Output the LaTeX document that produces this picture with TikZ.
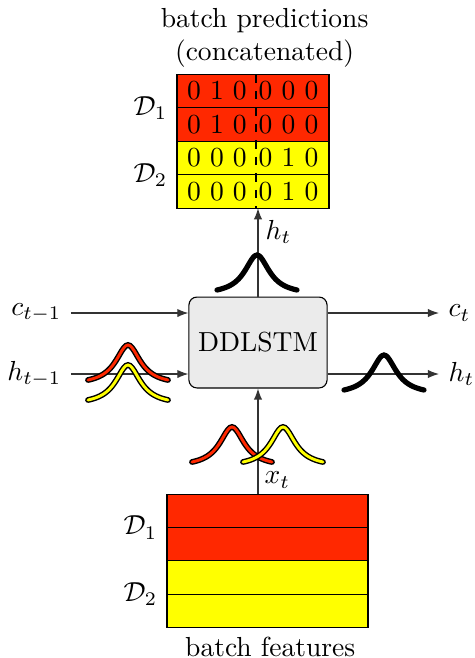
\documentclass[tikz,border=0pt]{standalone}
\usetikzlibrary{positioning,arrows.meta}
\definecolor{batchred}{RGB}{255,40,0}
\definecolor{batchyellow}{RGB}{255,255,0}
\definecolor{boxgray}{RGB}{235,235,235}
% bell shaped curve with its peak at (#1,#2)
\newcommand{\bellpath}[2]{plot[domain=-40:40,samples=41,smooth] ({#1+\x},{#2+39.9*(1-1/(1+(\x/15)^2))})}
\begin{document}
\begin{tikzpicture}[x=0.363pt,y=-0.363pt,node distance=0pt,
  predrow/.style={draw, outer sep=0pt, minimum width=55.2pt, minimum height=12.16pt, inner sep=0pt},
  featrow/.style={draw, outer sep=0pt, minimum width=73pt, minimum height=12.07pt, inner sep=0pt},
  lstmbox/.style={draw, fill=boxgray, rounded corners=2.9pt, minimum width=49.4pt, minimum height=33pt},
  flow/.style={-{Latex[length=4pt,width=3pt]}, black!80},
  bellblack/.style={line width=1.9pt, line cap=round},
  bellout/.style={line width=2.1pt, line cap=round, black},
  bellin/.style={line width=1.05pt, line cap=round}]
  \useasboundingbox (0,0) rectangle (475,658);
  % predictions
  \node[predrow, fill=batchred] (p1) at (253,91) {};
  \node[predrow, fill=batchred, below=of p1] (p2) {};
  \node[predrow, fill=batchyellow, below=of p2] (p3) {};
  \node[predrow, fill=batchyellow, below=of p3] (p4) {};
  \foreach \r/\a/\b in {1/{0 1 0}/{0 0 0}, 2/{0 1 0}/{0 0 0}, 3/{0 0 0}/{0 1 0}, 4/{0 0 0}/{0 1 0}} {
    \node (p\r a) at ([xshift=-13.1pt]p\r.center) {\a};
    \node (p\r b) at ([xshift=12.9pt]p\r.center) {\b};
  }
  \draw[dashed] ([xshift=1.1pt]p1.north) -- ([xshift=1.1pt]p4.south);
  \node[left] (pd1) at (p1.south west) {$\mathcal{D}_1$};
  \node[left] (pd2) at (p3.south west) {$\mathcal{D}_2$};
  \node[align=center, anchor=south] (ptitle) at ([xshift=4.2pt,yshift=-1pt]p1.north) {batch predictions\\(concatenated)};
  % cell
  \node[lstmbox] (lstm) at (258,342.5) {DDLSTM};
  \draw[flow] (lstm.north) -- (lstm.north |- p4.south);
  \node[anchor=west] (htop) at (256,232) {$h_t$};
  \node[anchor=east] (cprev) at (71,313) {$c_{t-1}$};
  \node[anchor=east] (hprev) at (71,374) {$h_{t-1}$};
  \node[anchor=west] (cnext) at (439,313) {$c_t$};
  \node[anchor=west] (hnext) at (439,374) {$h_t$};
  \draw[flow] (cprev.east) -- (cprev.east -| lstm.west);
  \draw[flow] (hprev.east) -- (hprev.east -| lstm.west);
  \draw[flow] (lstm.east |- cnext) -- (cnext.west);
  \draw[flow] (lstm.east |- hnext) -- (hnext.west);
  % features
  \node[featrow, fill=batchred] (f1) at (267.5,511) {};
  \node[featrow, fill=batchred, below=of f1] (f2) {};
  \node[featrow, fill=batchyellow, below=of f2] (f3) {};
  \node[featrow, fill=batchyellow, below=of f3] (f4) {};
  \node[left] (fd1) at (f1.south west) {$\mathcal{D}_1$};
  \node[left] (fd2) at (f3.south west) {$\mathcal{D}_2$};
  \node[below=0pt of f4, xshift=1pt] (flabel) {batch features};
  \draw[flow] (f1.north -| lstm.south) -- (lstm.south);
  \node[anchor=west] (xin) at (255,480) {$x_t$};
  % distributions
  \draw[bellblack] \bellpath{257}{255};
  \draw[bellblack] \bellpath{384}{355};
  \draw[bellout] \bellpath{128}{345};
  \draw[bellin, batchred] \bellpath{128}{345};
  \draw[bellout] \bellpath{128}{365};
  \draw[bellin, batchyellow] \bellpath{128}{365};
  \draw[bellout] \bellpath{232}{427};
  \draw[bellin, batchred] \bellpath{232}{427};
  \draw[bellout] \bellpath{283}{427};
  \draw[bellin, batchyellow] \bellpath{283}{427};
\end{tikzpicture}
\end{document}
